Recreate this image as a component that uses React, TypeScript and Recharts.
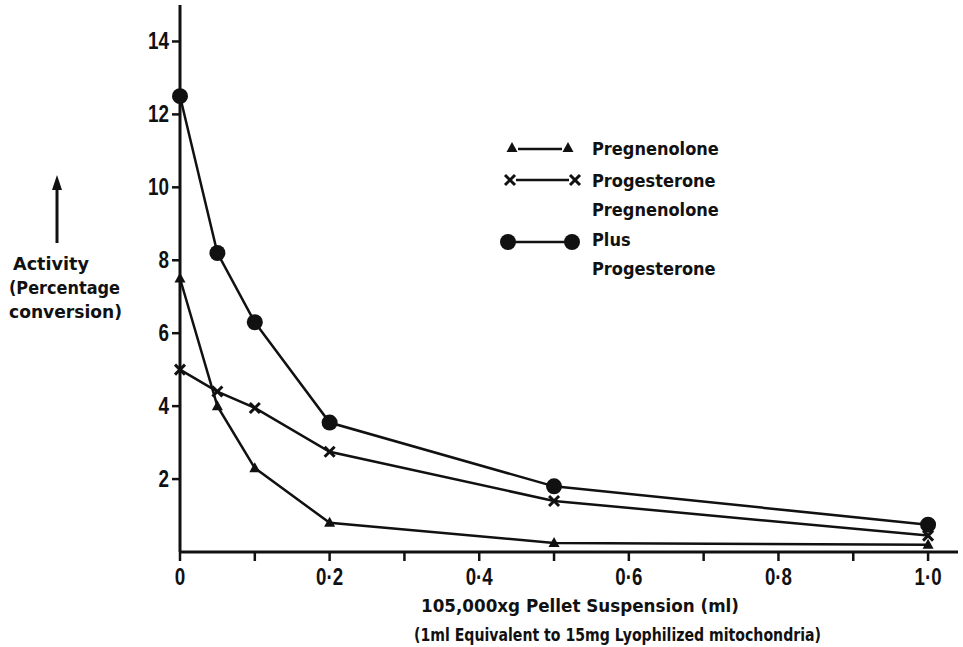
import { LineChart, Line, XAxis, YAxis, Customized } from 'recharts'

// pellet suspension volume (ml)
const doses = [0, 0.05, 0.1, 0.2, 0.5, 1.0]
// activity, percentage conversion
const pregnenolone = [7.5, 4.0, 2.3, 0.8, 0.25, 0.2]
const progesterone = [5.0, 4.4, 3.95, 2.75, 1.4, 0.45]
const combined = [12.5, 8.2, 6.3, 3.55, 1.8, 0.75]

const xTicks = [0, 0.1, 0.2, 0.3, 0.4, 0.5, 0.6, 0.7, 0.8, 0.9, 1.0]
const yTicks = [2, 4, 6, 8, 10, 12, 14]

const FONT = '"DejaVu Sans Condensed", "DejaVu Sans", sans-serif'
const NUM_FONT = '"Liberation Sans", Arial, sans-serif'
const INK = '#111'

const data = doses.map((dose, i) => ({
  dose,
  pregnenolone: pregnenolone[i],
  progesterone: progesterone[i],
  combined: combined[i],
}))

const formatDose = (v: number) => {
  const step = Math.round(v * 10)
  if (step % 2 !== 0) return ''
  if (step === 0) return '0'
  return (step / 10).toFixed(1).replace('.', '\u00b7')
}

// squeeze the numerals into a narrow, tall face
const numWidth = (s: string) =>
  s.split('').reduce((w, c) => w + (c === '\u00b7' ? 6 : 10.5), 0)

const XTick = ({ x, y, payload }: any) => {
  const label = formatDose(payload.value)
  if (!label) return null
  return (
    <text
      x={x}
      y={y + 12}
      textAnchor="middle"
      dominantBaseline="central"
      textLength={numWidth(label)}
      lengthAdjust="spacingAndGlyphs"
      fontFamily={NUM_FONT}
      fontWeight={700}
      fontSize={24}
      fill={INK}
    >
      {label}
    </text>
  )
}

const YTick = ({ x, y, payload }: any) => {
  const label = String(payload.value)
  return (
    <text
      x={x}
      y={y}
      textAnchor="end"
      dominantBaseline="central"
      textLength={numWidth(label)}
      lengthAdjust="spacingAndGlyphs"
      fontFamily={NUM_FONT}
      fontWeight={700}
      fontSize={23}
      fill={INK}
    >
      {label}
    </text>
  )
}

const Triangle = ({ cx, cy }: any) => {
  if (cx == null || cy == null) return null
  return <path d={`M${cx},${cy - 6} L${cx + 5.5},${cy + 4} L${cx - 5.5},${cy + 4} Z`} fill={INK} />
}

const Cross = ({ cx, cy }: any) => {
  if (cx == null || cy == null) return null
  const s = 5
  return (
    <g stroke={INK} strokeWidth={3}>
      <line x1={cx - s} y1={cy - s} x2={cx + s} y2={cy + s} />
      <line x1={cx - s} y1={cy + s} x2={cx + s} y2={cy - s} />
    </g>
  )
}

const Dot = ({ cx, cy }: any) => {
  if (cx == null || cy == null) return null
  return <circle cx={cx} cy={cy} r={8} fill={INK} />
}

// legend block, vertical axis caption and the x axis caption
const Annotations = () => {
  const txt = { fontFamily: FONT, fontWeight: 700, fontSize: 18, fill: INK }
  return (
    <g>
      <Triangle cx={512} cy={148} />
      <line x1={518} y1={149} x2={562} y2={149} stroke={INK} strokeWidth={2.5} />
      <Triangle cx={568} cy={148} />
      <text x={592} y={148} dominantBaseline="central" {...txt}>Pregnenolone</text>

      <Cross cx={510} cy={180} />
      <line x1={516} y1={180} x2={569} y2={180} stroke={INK} strokeWidth={2.5} />
      <Cross cx={575} cy={180} />
      <text x={592} y={180} dominantBaseline="central" {...txt}>Progesterone</text>

      <text x={592} y={209} dominantBaseline="central" {...txt}>Pregnenolone</text>
      <Dot cx={508} cy={242} />
      <line x1={508} y1={242} x2={572} y2={242} stroke={INK} strokeWidth={2.5} />
      <Dot cx={572} cy={242} />
      <text x={592} y={239} dominantBaseline="central" {...txt}>Plus</text>
      <text x={592} y={268} dominantBaseline="central" {...txt}>Progesterone</text>

      <line x1={57} y1={186} x2={57} y2={243} stroke={INK} strokeWidth={3} />
      <path d="M57,175 L62,190 L52,190 Z" fill={INK} />
      <text x={13} y={270} textLength={76} lengthAdjust="spacingAndGlyphs" {...txt}>Activity</text>
      <text x={9} y={294} textLength={111} lengthAdjust="spacingAndGlyphs" {...txt}>(Percentage</text>
      <text x={9} y={318} textLength={113} lengthAdjust="spacingAndGlyphs" {...txt}>conversion)</text>

      <text x={421} y={612} textLength={318} lengthAdjust="spacingAndGlyphs" {...txt}>
        105,000xg Pellet Suspension (ml)
      </text>
      <text x={414} y={641} textLength={407} lengthAdjust="spacingAndGlyphs" {...txt}>
        (1ml Equivalent to 15mg Lyophilized mitochondria)
      </text>
    </g>
  )
}

export default function App() {
  return (
    <div style={{ position: 'absolute', left: 0, top: 0, background: '#fff' }}>
      <LineChart
        width={963}
        height={647}
        data={data}
        margin={{ top: 5, right: 5, left: 0, bottom: 0 }}
      >
        <XAxis
          dataKey="dose"
          type="number"
          domain={[0, 1.04]}
          ticks={xTicks}
          height={95}
          tickSize={9}
          tickMargin={3}
          interval={0}
          stroke={INK}
          axisLine={{ stroke: INK, strokeWidth: 3 }}
          tickLine={{ stroke: INK, strokeWidth: 2.5 }}
          tick={<XTick />}
        />
        <YAxis
          type="number"
          domain={[0, 15]}
          ticks={yTicks}
          width={180}
          tickSize={8}
          tickMargin={3}
          interval={0}
          stroke={INK}
          axisLine={{ stroke: INK, strokeWidth: 3 }}
          tickLine={{ stroke: INK, strokeWidth: 2.5 }}
          tick={<YTick />}
        />
        <Line
          type="linear"
          dataKey="combined"
          stroke={INK}
          strokeWidth={2.5}
          dot={<Dot />}
          activeDot={false}
          isAnimationActive={false}
        />
        <Line
          type="linear"
          dataKey="progesterone"
          stroke={INK}
          strokeWidth={2.5}
          dot={<Cross />}
          activeDot={false}
          isAnimationActive={false}
        />
        <Line
          type="linear"
          dataKey="pregnenolone"
          stroke={INK}
          strokeWidth={2.5}
          dot={<Triangle />}
          activeDot={false}
          isAnimationActive={false}
        />
        <Customized component={Annotations} />
      </LineChart>
    </div>
  )
}
